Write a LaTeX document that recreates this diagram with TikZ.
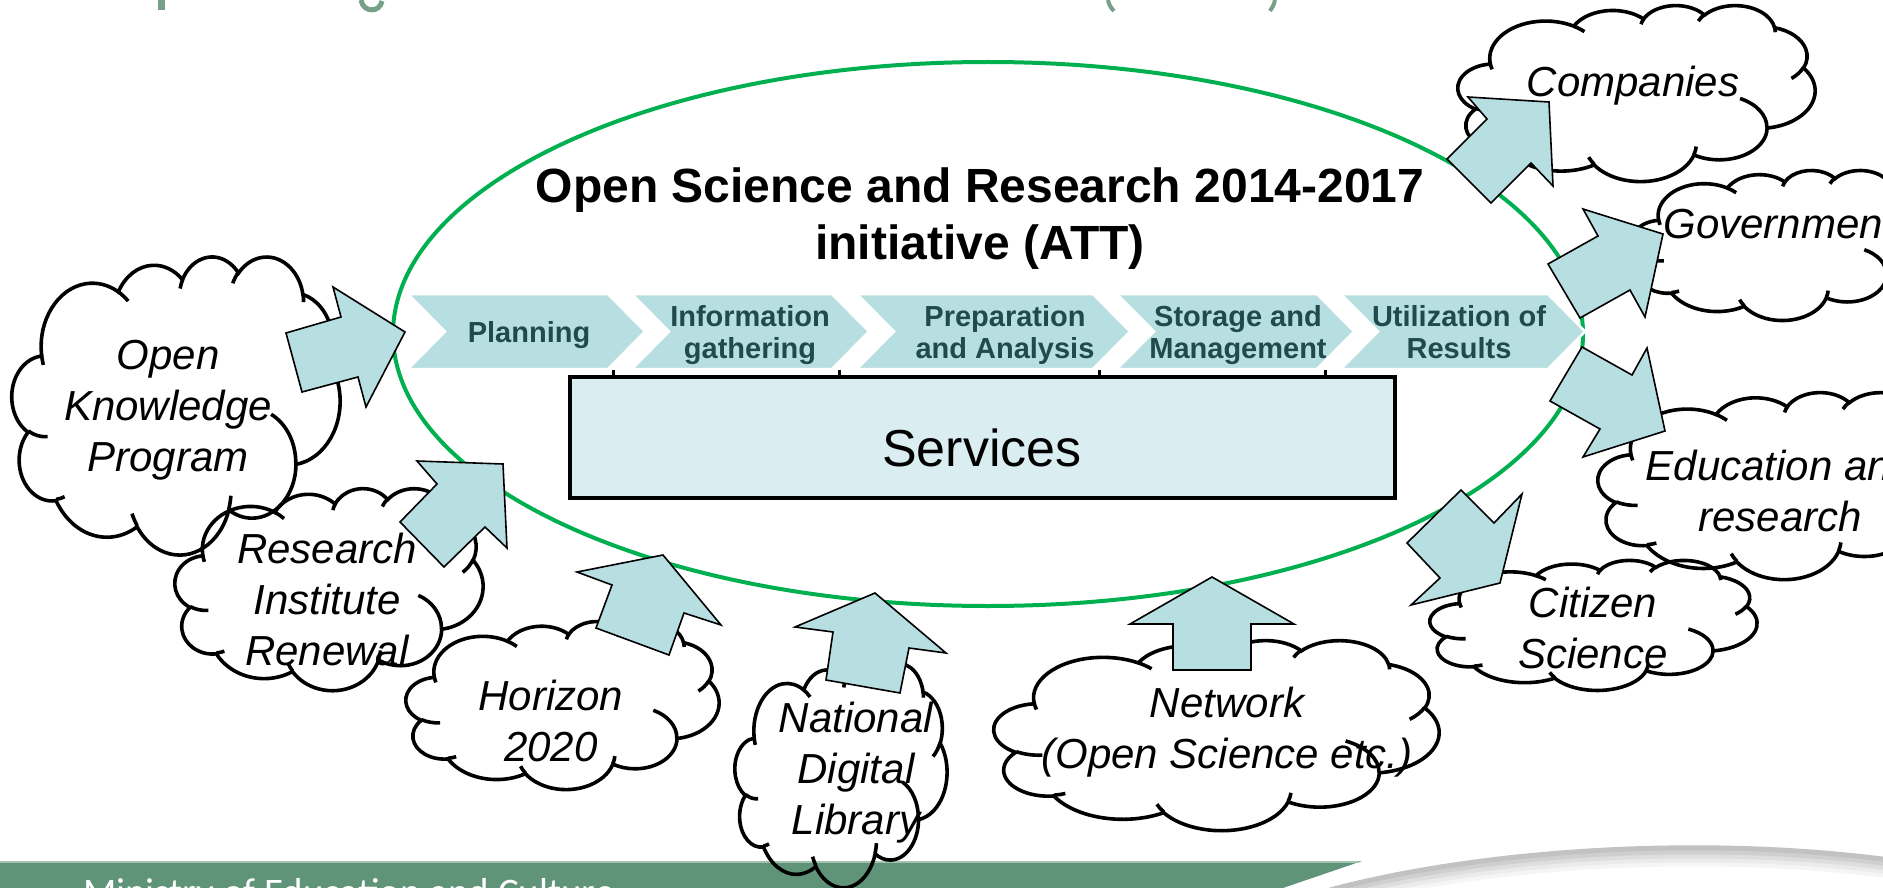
\documentclass[tikz,border=0pt]{standalone}
\usepackage{fontspec}
\setmainfont{Liberation Sans}
\newfontfamily\minfont{Carlito}
\usetikzlibrary{shapes.geometric}
\definecolor{chevblue}{HTML}{B7DEE1}
\definecolor{arrowblue}{HTML}{B7DEE1}
\definecolor{servfill}{HTML}{DAEDF0}
\definecolor{chevtext}{HTML}{1F4B4D}
\definecolor{ellgreen}{HTML}{00B050}
\definecolor{bannergreen}{HTML}{5F9479}
\definecolor{bannerlight}{HTML}{A3C3B2}
\definecolor{titlegreen}{HTML}{76A088}
\newcommand\ml[1]{\begin{tabular}[t]{@{}c@{}}#1\end{tabular}}
\newcommand\carc[4]{arc[x radius=#1, y radius=#2, start angle={atan2((#1)*sin(#3),(#2)*cos(#3))}, delta angle={mod(atan2((#1)*sin((#3)+(#4)),(#2)*cos((#3)+(#4)))-atan2((#1)*sin(#3),(#2)*cos(#3))+720,360)}]}
\newcommand\pptcloud[4]{%
 \begin{scope}[shift={(#1,#2)},xscale=#3/432,yscale=#4/432]
 \draw[cloudline] (39.00,143.70) \carc{67.53}{91.90}{-190.4875}{123.7805}
 \carc{53.33}{72.67}{-144.1024}{89.9452}
 \carc{43.65}{59.45}{-145.8079}{99.7230}
 \carc{48.57}{65.95}{-130.9861}{117.2417}
 \carc{53.33}{72.73}{-78.7089}{109.0269}
 \carc{67.75}{92.20}{-46.2673}{130.2690}
 \carc{57.85}{78.67}{0.6250}{114.0333}
 \carc{67.52}{92.15}{22.4516}{115.1726}
 \carc{77.20}{105.43}{66.2426}{75.7110}
 \carc{43.60}{59.18}{-274.9421}{146.7356}
 \carc{43.45}{59.45}{-246.8285}{152.5189}
 -- cycle;
 \draw[cloudline] (46.93,261.77) \carc{43.45}{59.45}{86.7420}{26.4295}
 (69.28,348.99) \carc{43.60}{59.18}{73.6105}{11.4475}
 (164.78,390.90) \carc{67.52}{92.15}{137.6242}{14.0811}
 (288.27,347.51) \carc{67.52}{92.15}{6.4533}{15.9984}
 (341.29,229.54) \carc{57.85}{78.67}{-70.2924}{70.9174}
 (417.98,153.54) \carc{53.33}{72.73}{30.3180}{27.7515}
 (383.24,54.26) \carc{48.57}{65.95}{-13.7443}{14.8589}
 (290.78,39.52) \carc{48.57}{65.95}{-149.1815}{18.1954}
 (221.41,47.20) \carc{43.65}{59.45}{-163.4943}{17.6864}
 (140.00,51.92) \carc{67.53}{91.90}{-66.7070}{12.3194}
 (41.27,157.89) \carc{67.53}{91.90}{157.6544}{11.8582};
 \end{scope}}
\newcommand\chev[2]{\draw[chevstyle] (#1,294) -- ({#2-37},294) -- (#2,331.5) -- ({#2-37},369) -- (#1,369) -- ({#1+37},331.5) -- cycle;}
\tikzset{
 cloudline/.style={draw=black, line width=3.6pt},
 chevstyle/.style={fill=chevblue, draw=white, line width=2.5pt, line join=miter},
 chevtxt/.style={anchor=base, inner sep=0pt, text=chevtext, font=\bfseries\fontsize{29}{32}\selectfont},
 cloudtxt/.style={anchor=base, inner sep=0pt, font=\itshape\fontsize{42}{51}\selectfont},
 blockarrow/.style={fill=arrowblue, draw=black, line width=1.6pt, line join=miter},
 tick/.style={draw=black, line width=3pt},
}
\begin{document}
\begin{tikzpicture}[x=1pt,y=-1pt]
\useasboundingbox (0,0) rectangle (1883,888);
\clip (0,0) rectangle (1883,888);
\fill[white] (0,0) rectangle (1883,888);
% cut-off title descenders
\fill[titlegreen] (158,0) rectangle (165,10);
\draw[titlegreen, line width=5pt] (361,0) .. controls (363,13) and (380,13) .. (382,1);
\draw[titlegreen, line width=4pt] (1108,0) .. controls (1109,5) and (1111,8) .. (1114,11);
\draw[titlegreen, line width=4pt] (1275,0) .. controls (1274,5) and (1272,8) .. (1270,11);
% bottom banner and swoosh
\fill[bannergreen] (0,861) -- (1362,861) -- (1283,888) -- (0,888) -- cycle;
\draw[bannerlight, line width=2pt] (0,862) -- (1359,862);
\foreach \d/\c in {16/4,12/8,8/13,4/19,0/24} {
 \draw[line width=5pt, black!\c] (1330,{890+\d}) .. controls (1480,{850+\d}) and (1700,{835+\d}) .. (1890,{860+\d});
}
\node[anchor=base west, inner sep=0pt, text=white, font=\minfont\fontsize{39}{44}\selectfont] (ministry) at (83,905) {Ministry of Education and Culture};
% ellipse
\node[ellipse, draw=ellgreen, line width=4pt, minimum width=1190pt, minimum height=544pt, inner sep=0pt] (att) at (988,334) {};
% chevrons
\chev{408}{645}
\chev{632}{869}
\chev{857}{1130}
\chev{1117}{1354}
\chev{1341}{1585}
\node[chevtxt] (ch1) at (529,342) {Planning};
\node[chevtxt] (ch2) at (750,326) {\ml{Information\\gathering}};
\node[chevtxt] (ch3) at (1005,326) {\ml{Preparation\\and Analysis}};
\node[chevtxt] (ch4) at (1238,326) {\ml{Storage and\\Management}};
\node[chevtxt] (ch5) at (1459,326) {\ml{Utilization of\\Results}};
% services
\node[draw=black, fill=servfill, line width=4pt, minimum width=825pt, minimum height=121pt, inner sep=0pt] (servbox) at (982.5,437.5) {};
\node[anchor=base, inner sep=0pt, font=\fontsize{52}{60}\selectfont] (services) at (982,466) {Services};
\draw[tick] (613,370) -- (613,377);
\draw[tick] (839,370) -- (839,377);
\draw[tick] (1099,370) -- (1099,377);
\draw[tick] (1325,370) -- (1325,377);
% title
\node[anchor=base, inner sep=0pt, font=\bfseries\fontsize{48}{57}\selectfont] (title) at (980,203) {\ml{Open Science and Research 2014-2017\\initiative (ATT)}};
% clouds
\pptcloud{12}{256}{328}{298}
\pptcloud{175}{488}{308}{202}
\pptcloud{406}{621}{313}{168}
\pptcloud{735}{663}{212}{224}
\pptcloud{994}{640}{445}{190}
\pptcloud{1430}{560}{327}{130}
\pptcloud{1598}{392}{364}{187}
\pptcloud{1632}{170}{294}{150}
\pptcloud{1458}{5}{357}{176}
\node[cloudtxt] (okpT) at (168,369) {\ml{Open\\Knowledge\\Program}};
\node[cloudtxt] (rirT) at (327,563) {\ml{Research\\Institute\\Renewal}};
\node[cloudtxt] (horT) at (551,710) {\ml{Horizon\\2020}};
\node[cloudtxt] (ndlT) at (856,732) {\ml{National\\Digital\\Library}};
\node[cloudtxt] (netT) at (1227,717) {\ml{Network\\(Open Science etc.)}};
\node[cloudtxt] (citT) at (1593,617) {\ml{Citizen\\Science}};
\node[cloudtxt] (eduT) at (1780,480) {\ml{Education and\\research}};
\node[cloudtxt] (govT) at (1779,238) {Government};
\node[cloudtxt] (comT) at (1633,97) {Companies};
% block arrows
\draw[blockarrow] (286,333) -- (341,317) -- (333,287) -- (405,332) -- (366,407) -- (358,377) -- (302,392) -- cycle;
\draw[blockarrow] (400,522) -- (437,484) -- (417,461) -- (503,464) -- (507,548) -- (485,527) -- (444,567) -- cycle;
\draw[blockarrow] (596,628) -- (612,585) -- (577,572) -- (663,555) -- (721,625) -- (684,613) -- (669,655) -- cycle;
\draw[blockarrow] (826,680) -- (833,632) -- (795,627) -- (875,593) -- (946,653) -- (909,648) -- (900,693) -- cycle;
\draw[blockarrow] (1173,670) -- (1173,624) -- (1130,624) -- (1212,577) -- (1294,624) -- (1251,624) -- (1251,670) -- cycle;
\draw[blockarrow] (1447,159) -- (1487,119) -- (1468,97) -- (1549,102) -- (1553,186) -- (1531,163) -- (1491,203) -- cycle;
\draw[blockarrow] (1548,264) -- (1598,236) -- (1583,209) -- (1663,234) -- (1645,317) -- (1630,290) -- (1580,318) -- cycle;
\draw[blockarrow] (1582,347) -- (1632,375) -- (1647,348) -- (1665,431) -- (1583,457) -- (1600,429) -- (1550,401) -- cycle;
\draw[blockarrow] (1461,490) -- (1494,523) -- (1522,494) -- (1500,583) -- (1411,605) -- (1440,578) -- (1407,543) -- cycle;
\end{tikzpicture}
\end{document}
